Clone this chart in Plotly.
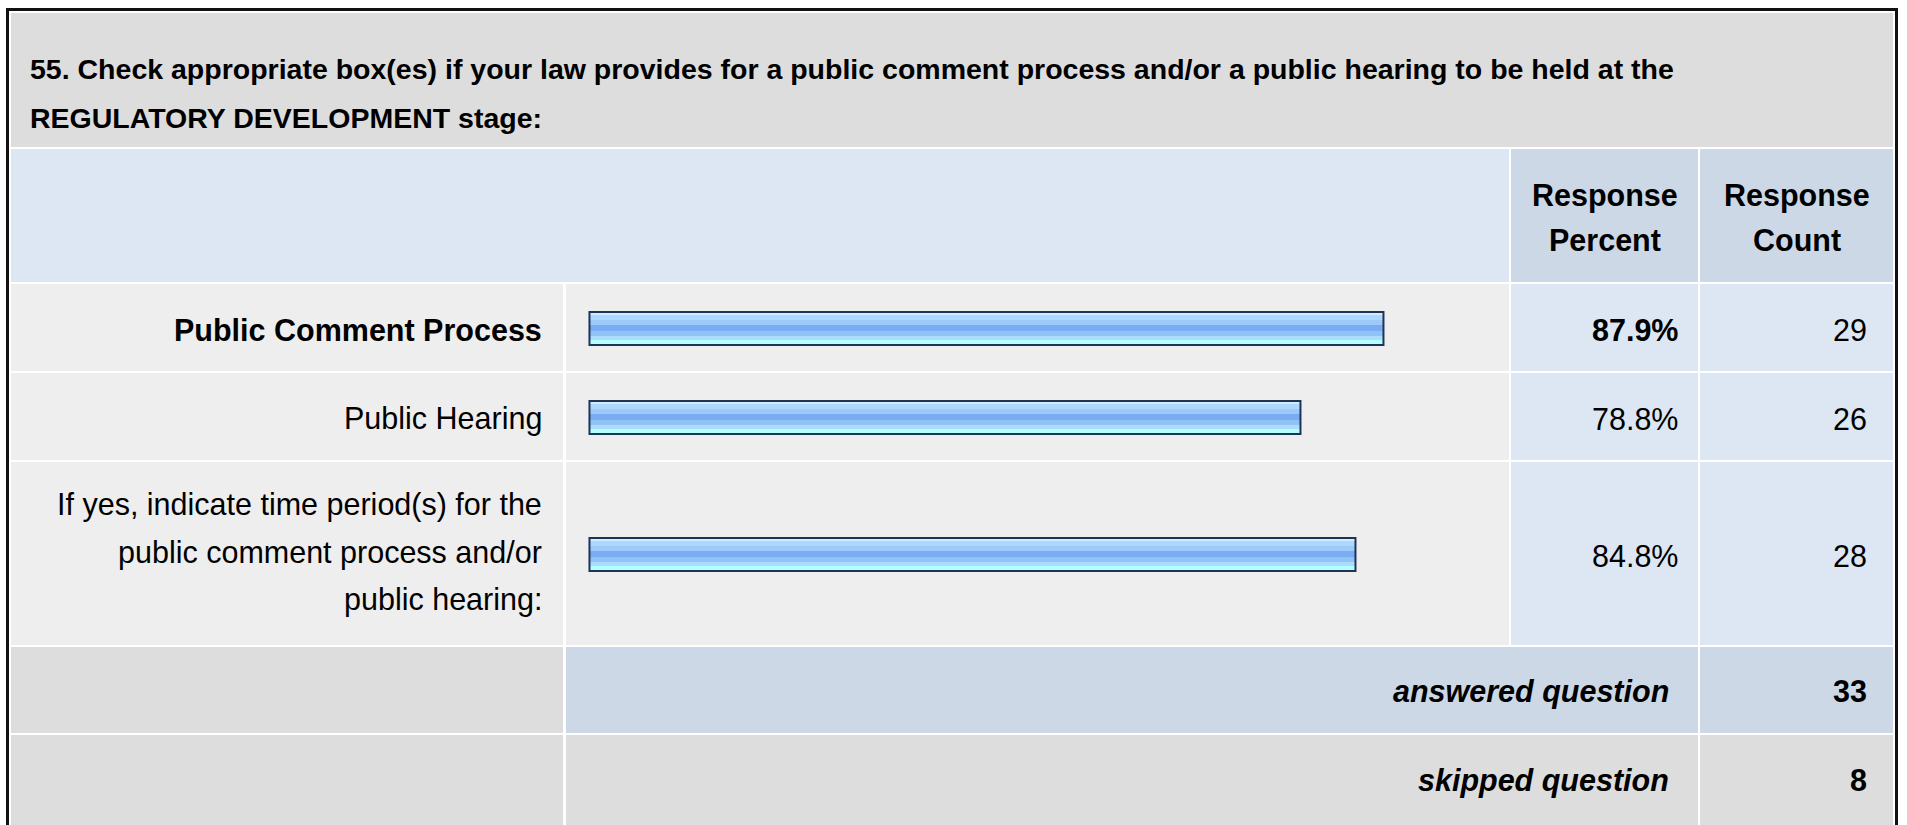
import plotly.graph_objects as go

# ---------------- data ----------------
question_lines = [
    "55. Check appropriate box(es) if your law provides for a public comment process and/or a public hearing to be held at the",
    "REGULATORY DEVELOPMENT stage:",
]
answer_options = [
    "Public Comment Process",
    "Public Hearing",
    "If yes, indicate time period(s) for the public comment process and/or public hearing:",
]
answer_label_lines = [
    ["Public Comment Process"],
    ["Public Hearing"],
    ["If yes, indicate time period(s) for the", "public comment process and/or", "public hearing:"],
]
response_percent = [87.9, 78.8, 84.8]
response_count = [29, 26, 28]
header_percent = ["Response", "Percent"]
header_count = ["Response", "Count"]
answered_label = "answered question"
answered_count = 33
skipped_label = "skipped question"
skipped_count = 8

# ---------------- geometry / style ----------------
W, H = 1907, 825
FONT = "Liberation Sans, Arial, Helvetica, sans-serif"
FS = 30.5
TITLE_FS = 28.5

GRAY = "#DDDDDD"
LGRAY = "#EEEEEE"
LBLUE = "#DDE7F4"
DBLUE = "#CCD8E6"

# column edges (px)
L, C1, C2, C3, C4, C5, C6, R = 11, 563, 566, 1509, 1511, 1698, 1700, 1893
# row edges (px)
T, HB = 13, 147
BH0, BH1 = 149, 282
ROWS = [(284, 371), (373, 460), (462, 645)]
ANS = (647, 733)
SKP = (735, 830)

BAR_X0 = 589.5          # px where 0 % sits
BAR_UNIT = 9.027        # px per percent
BAR_INNER = 33.0        # bar height (px)
BAR_SHIFT = 1.0         # bar centre below row centre (px)


def px(x):
    return x / W


def py(y):
    return 1 - y / H


shapes = []


def cell(x0, y0, x1, y1, color):
    shapes.append(dict(type="rect", xref="paper", yref="paper",
                       x0=px(x0), x1=px(x1), y0=py(y1), y1=py(y0),
                       fillcolor=color, line=dict(width=0), layer="below"))


# title header
cell(L, T, R, HB, GRAY)
# column header row
cell(L, BH0, C3, BH1, LBLUE)
cell(C4, BH0, C5, BH1, DBLUE)
cell(C6, BH0, R, BH1, DBLUE)
# answer rows
for (y0, y1) in ROWS:
    cell(L, y0, C1, y1, LGRAY)
    cell(C2, y0, C3, y1, LGRAY)
    cell(C4, y0, C5, y1, LBLUE)
    cell(C6, y0, R, y1, LBLUE)
# answered row
cell(L, ANS[0], C1, ANS[1], GRAY)
cell(C2, ANS[0], C5, ANS[1], DBLUE)
cell(C6, ANS[0], R, ANS[1], DBLUE)
# skipped row
cell(L, SKP[0], C1, SKP[1], GRAY)
cell(C2, SKP[0], C5, SKP[1], GRAY)
cell(C6, SKP[0], R, SKP[1], GRAY)


# outer frame
def line(x0, y0, x1, y1, w, color):
    shapes.append(dict(type="line", xref="paper", yref="paper",
                       x0=px(x0), x1=px(x1), y0=py(y0), y1=py(y1),
                       line=dict(width=w, color=color), layer="above"))


line(7.5, 8, 7.5, 830, 3, "#111111")
line(6, 9.5, 1898, 9.5, 3, "#111111")
line(1896.5, 8, 1896.5, 830, 3, "#111111")

annotations = []


def text(x, y, s, anchor="left", size=FS, bold=False, italic=False):
    if italic:
        s = "<i>" + s + "</i>"
    if bold:
        s = "<b>" + s + "</b>"
    annotations.append(dict(xref="paper", yref="paper", x=px(x), y=py(y),
                            text=s, showarrow=False, xanchor=anchor, yanchor="middle",
                            font=dict(family=FONT, size=size, color="#000000")))


# title lines
title_y = [69, 118]
for s, yy in zip(question_lines, title_y):
    text(28, yy, s, "left", TITLE_FS, bold=True)

# column headers
for i, s in enumerate(header_percent):
    text((C4 + C5) / 2, [196, 240][i], s, "center", FS, bold=True)
for i, s in enumerate(header_count):
    text((C6 + R) / 2, [196, 240][i], s, "center", FS, bold=True)

# row labels + values
best = max(range(len(response_percent)), key=lambda i: response_percent[i])
for i, (y0, y1) in enumerate(ROWS):
    lines = answer_label_lines[i]
    cy = (y0 + y1) / 2 + 2
    step = 47.4
    start = cy - step * (len(lines) - 1) / 2 - (3.5 if len(lines) > 1 else 0)
    for k, s in enumerate(lines):
        text(544, start + k * step, s, "right", FS, bold=(i == best))
    text(1680, cy, f"{response_percent[i]:.1f}%", "right", FS, bold=(i == best))
    text(1869, cy, str(response_count[i]), "right", FS)

text(1671, (ANS[0] + ANS[1]) / 2 + 1, answered_label, "right", FS, bold=True, italic=True)
text(1869, (ANS[0] + ANS[1]) / 2 + 1, str(answered_count), "right", FS, bold=True)
text(1671, 780, skipped_label, "right", FS, bold=True, italic=True)
text(1869, 780, str(skipped_count), "right", FS, bold=True)

# ---------------- bars (one subplot per row) ----------------
xr = [-1.0, 101.0]
xdom = [px(BAR_X0 + xr[0] * BAR_UNIT), px(BAR_X0 + xr[1] * BAR_UNIT)]

stripes = [  # (top px, bottom px, colour) measured from bar top
    (0, 3, "#D3EBFF"),
    (3, 8, "#AED7FF"),
    (8, 13, "#9DCAFB"),
    (13, 19, "#79ACF1"),
    (19, 24, "#91C2F6"),
    (24, 28, "#ABDCFE"),
    (28, 33, "#B3FFFF"),
]

fig = go.Figure()
layout_axes = {}
for i, (y0, y1) in enumerate(ROWS):
    n = i + 2
    xa, ya = f"x{n}", f"y{n}"
    Hrow = y1 - y0
    top = BAR_INNER / 2 - BAR_SHIFT  # px above row centre (upward positive)
    for (t0, t1, col) in stripes:
        fig.add_trace(go.Bar(
            x=[response_percent[i]], y=[answer_options[i]], orientation="h",
            xaxis=xa, yaxis=ya,
            offset=(top - t1) / Hrow, width=(t1 - t0) / Hrow,
            marker=dict(color=col, line=dict(width=0)),
            hoverinfo="skip", showlegend=False))
    # outline
    fig.add_trace(go.Bar(
        x=[response_percent[i]], y=[answer_options[i]], orientation="h",
        xaxis=xa, yaxis=ya,
        offset=(top - BAR_INNER) / Hrow, width=BAR_INNER / Hrow,
        marker=dict(color="rgba(0,0,0,0)", line=dict(width=2, color="#1C3458")),
        hovertemplate="%{y}: %{x:.1f}%<extra></extra>", showlegend=False))
    layout_axes[f"xaxis{n}"] = dict(domain=xdom, range=xr, visible=False,
                                    fixedrange=True, anchor=ya)
    layout_axes[f"yaxis{n}"] = dict(domain=[py(y1), py(y0)], range=[-0.5, 0.5],
                                    type="category", visible=False,
                                    fixedrange=True, anchor=xa)

fig.update_layout(
    width=W, height=H,
    margin=dict(l=0, r=0, t=0, b=0, pad=0),
    paper_bgcolor="#FFFFFF", plot_bgcolor="rgba(0,0,0,0)",
    barmode="overlay", bargap=0,
    shapes=shapes, annotations=annotations,
    xaxis=dict(visible=False, domain=[0, 1]),
    yaxis=dict(visible=False, domain=[0, 1]),
    **layout_axes,
)

fig.write_html("out.html",
               config={"displayModeBar": False},
               post_script="document.body.style.margin='0px';document.body.style.overflow='hidden';")
